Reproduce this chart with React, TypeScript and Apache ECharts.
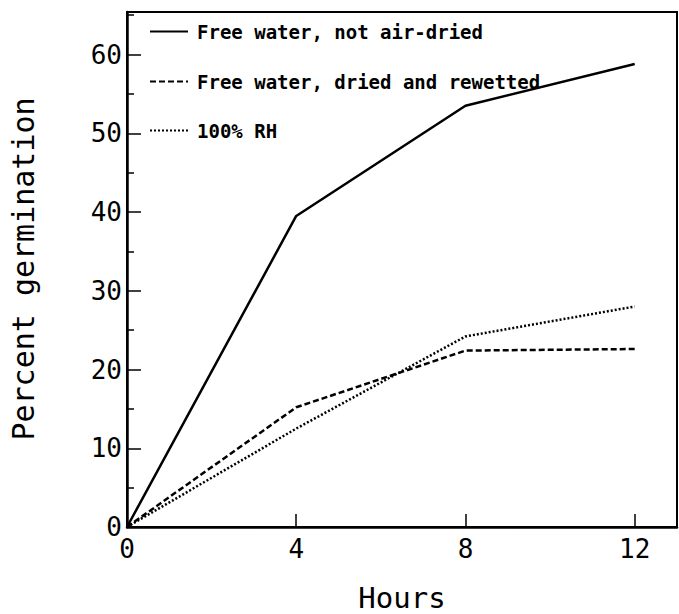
import React, { useEffect, useRef } from "react";
import * as echarts from "echarts";

const hours = [0, 4, 8, 12];
const notAirDried = [0, 39.5, 53.5, 58.8];
const driedRewetted = [0, 15.2, 22.4, 22.6];
const rh100 = [0, 12.5, 24.2, 28.0];
const seriesNames = [
  "Free water, not air-dried",
  "Free water, dried and rewetted",
  "100% RH",
];
const xTicks = [0, 4, 8, 12];
const yTicks = [0, 10, 20, 30, 40, 50, 60];

const FONT = "DejaVu Sans Mono";

export default function App() {
  const ref = useRef<HTMLDivElement>(null);
  useEffect(() => {
    if (!ref.current) return;
    const chart = echarts.init(ref.current, undefined, { renderer: "svg" });
    const pairs = (ys: number[]) => hours.map((h, i) => [h, ys[i]]);
    const lineTypes: any[] = ["solid", [6, 3], [2, 2]];
    const values = [notAirDried, driedRewetted, rh100];
    const legendTops = [29, 79, 128];
    chart.setOption({
      animation: false,
      backgroundColor: "#fff",
      grid: { left: 127, right: 2, top: 12, bottom: 87, show: false },
      xAxis: {
        type: "value",
        min: 0,
        max: 13,
        interval: 4,
        axisLine: { show: true, onZero: false, lineStyle: { color: "#000", width: 2.5 } },
        axisTick: { show: true, inside: true, length: 13, lineStyle: { color: "#000", width: 1.5 } },
        axisLabel: {
          color: "#000",
          fontFamily: FONT,
          fontSize: 26,
          margin: 9,
          formatter: (v: number) => (xTicks.includes(v) ? String(v) : ""),
          showMaxLabel: false,
        },
        splitLine: { show: false },
      },
      yAxis: {
        type: "value",
        min: 0,
        max: 65.4,
        interval: 10,
        axisLine: { show: true, onZero: false, lineStyle: { color: "#000", width: 2.5 } },
        axisTick: { show: true, inside: true, length: 14, lineStyle: { color: "#000", width: 1.5 } },
        minorTick: { show: true, splitNumber: 2, length: 7, lineStyle: { color: "#000", width: 1.5 } },
        axisLabel: {
          color: "#000",
          fontFamily: FONT,
          fontSize: 26,
          margin: 5,
          formatter: (v: number) => (yTicks.includes(v) ? String(v) : ""),
          showMaxLabel: false,
        },
        splitLine: { show: false },
      },
      legend: seriesNames.map((n, i) => ({
        data: [n],
        left: 149,
        top: legendTops[i] - 7,
        padding: 0,
        itemWidth: 38,
        itemHeight: 14,
        itemStyle: { opacity: 0 },
        textStyle: {
          color: "#000",
          fontFamily: FONT,
          fontSize: 19,
          fontWeight: "bold",
          padding: [0, 0, 0, 4],
        },
        selectedMode: false,
      })),
      graphic: [
        {
          type: "rect",
          shape: { x: 127, y: 12, width: 550, height: 515 },
          style: { fill: "none", stroke: "#000", lineWidth: 2 },
          silent: true,
          z: 10,
        },
        {
          type: "text",
          x: 402,
          y: 598,
          style: {
            text: "Hours",
            fontFamily: FONT,
            fontSize: 29,
            fill: "#000",
            textAlign: "center",
            textVerticalAlign: "middle",
          },
        },
        {
          type: "text",
          x: 23,
          y: 269,
          rotation: Math.PI / 2,
          style: {
            text: "Percent germination",
            fontFamily: FONT,
            fontSize: 30,
            fill: "#000",
            textAlign: "center",
            textVerticalAlign: "middle",
          },
        },
      ],
      series: values.map((v, i) => ({
        name: seriesNames[i],
        type: "line",
        data: pairs(v),
        symbol: "none",
        showSymbol: false,
        lineStyle: { color: "#000", width: 2.5, type: lineTypes[i] },
        itemStyle: { color: "#000" },
      })),
    });
    return () => chart.dispose();
  }, []);
  return <div ref={ref} style={{ width: 679, height: 614, position: "absolute", left: 0, top: 0 }} />;
}
